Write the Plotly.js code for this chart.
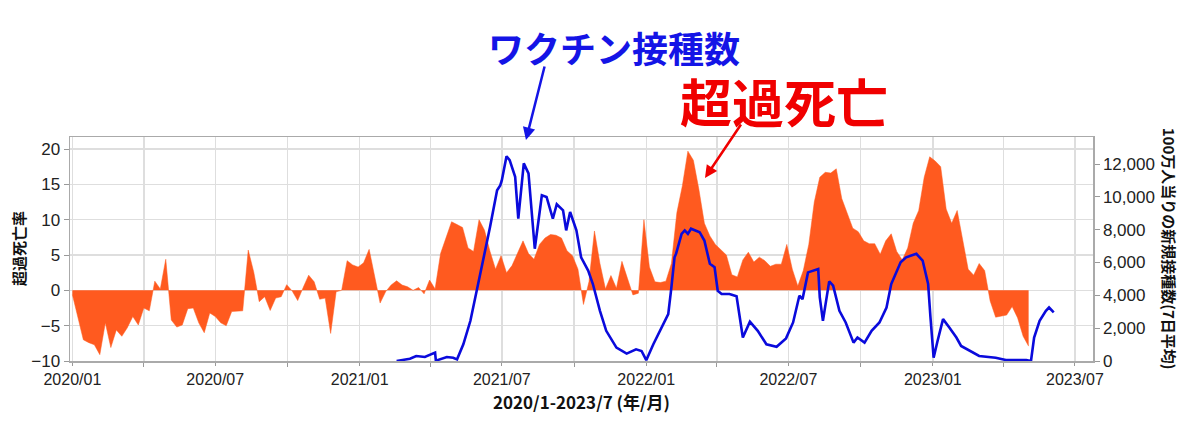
<!DOCTYPE html>
<html>
<head>
<meta charset="utf-8">
<script src="https://cdn.plot.ly/plotly-3.0.1.min.js"></script>
<style>
  html, body { margin: 0; padding: 0; background: #fff; }
  #chart { width: 1200px; height: 443px; }
</style>
</head>
<body>
<div id="chart"></div>
<script>
// weekly excess death rate (%), first week starts 2020-01-01
var excessStart = '2020-01-01';
var excessRate = [
  -0.6, -3.6, -7.0, -7.4, -7.7, -9.1, -4.6, -8.1, -5.6, -6.5,
  -5.3, -3.7, -4.9, -2.5, -2.9, 1.3, 0.2, 4.4, -4.2, -5.2,
  -4.9, -2.6, -2.5, -4.6, -6.0, -3.2, -3.7, -4.6, -5.0, -3.0,
  -2.9, -2.9, 5.7, 2.6, -1.6, -0.9, -2.85, -1.1, -0.9, 0.8,
  -0.1, -1.45, 0.4, 2.15, 1.2, -1.26, -1.1, -6.1, -0.2, 0,
  4.2, 3.6, 3.3, 3.9, 5.8, 1.9, -1.8, -0.2, 0.75, 1.35,
  0.75, 0.5, 0, 0.4, -0.5, 1.45, 0.2, 5.2, 7.5, 9.7,
  9.3, 8.9, 6.0, 5.5, 10.0, 8.5, 5.5, 3.0, 4.9, 2.5,
  3.5, 5.2, 7.0, 5.2, 4.4, 6.5, 7.4, 7.9, 7.8, 7.4,
  5.6, 4.9, 3.0, -2.0, 1.2, 8.4, 3.8, 0.2, 2.1, 0.3,
  4.1, 1.7, -0.65, -0.4, 10.0, 3.3, 1.2, 1.1, 1.3, 3.8,
  11.0, 14.8, 19.7, 18.4, 14.3, 9.5, 7.7, 6.5, 5.8, 5.0,
  2.2, 1.9, 4.3, 5.4, 4.0, 4.7, 4.2, 3.4, 3.7, 3.7,
  6.5, 3.0, 0.6, 2.8, 6.5, 12.5, 16.0, 16.7, 16.6, 17.2,
  13.0, 10.9, 8.8, 8.3, 7.0, 6.6, 6.6, 5.1, 7.0, 8.0,
  5.5, 4.3, 6.0, 9.5, 11.3, 16.0, 18.9, 18.3, 17.5, 11.5,
  9.5, 11.3, 7.0, 3.0, 2.15, 3.8, 2.8, -1.5, -3.8, -3.6,
  -3.5, -2.3, -3.9, -6.5, -7.9
];

// new vaccinations per million (7-day average)
var vaxDates = [
  '2021-02-17', '2021-03-06', '2021-03-14', '2021-03-25', '2021-04-07', '2021-04-08',
  '2021-04-22', '2021-04-30', '2021-05-05', '2021-05-13', '2021-05-22', '2021-05-30',
  '2021-06-08', '2021-06-16', '2021-06-25', '2021-06-29', '2021-07-01', '2021-07-07',
  '2021-07-11', '2021-07-18', '2021-07-22', '2021-07-25', '2021-07-29', '2021-08-04',
  '2021-08-07', '2021-08-12', '2021-08-21', '2021-08-27', '2021-09-04', '2021-09-09',
  '2021-09-17', '2021-09-21', '2021-09-26', '2021-10-04', '2021-10-10', '2021-10-19',
  '2021-10-25', '2021-11-03', '2021-11-11', '2021-11-24', '2021-12-07', '2021-12-19',
  '2021-12-26', '2022-01-01', '2022-01-10', '2022-01-22', '2022-01-29', '2022-02-02',
  '2022-02-06', '2022-02-08', '2022-02-15', '2022-02-19', '2022-02-23', '2022-02-27',
  '2022-03-10', '2022-03-16', '2022-03-23', '2022-03-29', '2022-04-02', '2022-04-07',
  '2022-04-17', '2022-04-26', '2022-05-02', '2022-05-04', '2022-05-13', '2022-05-23',
  '2022-06-03', '2022-06-16', '2022-06-28', '2022-07-07', '2022-07-15', '2022-07-19',
  '2022-07-26', '2022-08-01', '2022-08-08', '2022-08-10', '2022-08-14', '2022-08-22',
  '2022-08-27', '2022-09-04', '2022-09-12', '2022-09-22', '2022-09-27', '2022-10-06',
  '2022-10-15', '2022-10-25', '2022-11-03', '2022-11-09', '2022-11-16', '2022-11-21',
  '2022-11-28', '2022-12-11', '2022-12-19', '2022-12-26', '2022-12-29', '2023-01-02',
  '2023-01-07', '2023-01-14', '2023-01-22', '2023-01-31', '2023-02-06', '2023-02-17',
  '2023-03-01', '2023-03-22', '2023-04-04', '2023-04-30', '2023-05-06', '2023-05-10',
  '2023-05-17', '2023-05-25', '2023-05-29', '2023-06-04'
];
var vaxPerMillion = [
  0, 140, 306, 245, 510, 20,
  245, 200, 100, 1020, 2450, 4280,
  6120, 8160, 10400, 10700, 11000, 12480,
  12240, 11220, 8670, 10000, 12040, 11430,
  9790, 6840, 10100, 10000, 8670, 9550,
  9180, 7960, 9080, 7960, 6320, 5510,
  4690, 3060, 1840, 815, 450, 715,
  612, 50, 1020, 2245, 2860, 4490,
  6320, 6540, 7750, 7960, 7750, 8060,
  7850, 7340, 5920, 5710, 4280, 4080,
  4080, 3940, 1840, 1430, 2400, 1840,
  1020, 870, 1380, 2350, 3980, 3770,
  5400, 5510, 5610, 3880, 2450, 4850,
  4590, 3060, 2350, 1120, 1430, 1120,
  1840, 2350, 3260, 4690, 5510, 6020,
  6320, 6530, 6120, 4690, 2650, 200,
  1220, 2550, 2040, 1430, 918, 612,
  306, 200, 60, 60, 0, 1430,
  2450, 3060, 3260, 2960
];

var leftTicks = [-10, -5, 0, 5, 10, 15, 20];
var rightTicks = [0, 2000, 4000, 6000, 8000, 10000, 12000];

// build weekly dates for the excess series
var excessDates = [];
var d0 = new Date(excessStart + 'T00:00:00Z');
for (var i = 0; i < excessRate.length; i++) {
  var d = new Date(d0.getTime() + i * 7 * 86400000);
  excessDates.push(d.toISOString().slice(0, 10));
}

var orange = '#ff5a1f';
var blue = '#0a0adc';
var tickFont = {family: 'Liberation Sans, Noto Sans CJK JP, sans-serif', size: 17, color: '#222'};
var xTickFont = {family: 'Liberation Sans, Noto Sans CJK JP, sans-serif', size: 16, color: '#222'};
var jpBold = 'Noto Sans CJK JP, sans-serif';

var excessTrace = {
  x: excessDates,
  y: excessRate,
  type: 'scatter',
  mode: 'lines',
  fill: 'tozeroy',
  fillcolor: orange,
  line: {color: orange, width: 0.5},
  yaxis: 'y',
  hoverinfo: 'skip'
};

var vaxTrace = {
  x: vaxDates,
  y: vaxPerMillion,
  type: 'scatter',
  mode: 'lines',
  line: {color: blue, width: 2.6},
  yaxis: 'y2',
  hoverinfo: 'skip'
};

var layout = {
  width: 1200,
  height: 443,
  margin: {l: 70, r: 107, t: 137, b: 82},
  paper_bgcolor: '#fff',
  plot_bgcolor: '#fff',
  showlegend: false,
  xaxis: {
    type: 'date',
    range: ['2019-12-29', '2023-07-24'],
    tick0: '2020-01-01',
    dtick: 'M6',
    tickformat: '%Y/%m',
    ticks: 'outside',
    ticklen: 3,
    tickcolor: '#999',
    tickfont: xTickFont,
    showgrid: true,
    gridcolor: '#dedede',
    gridwidth: 1.5,
    minor: {dtick: 'M3', tick0: '2020-01-01', showgrid: true, gridcolor: '#dedede', gridwidth: 1.5, ticks: 'outside', ticklen: 4, tickcolor: '#999'},
    showline: true,
    linecolor: '#aaa',
    linewidth: 1.5,
    mirror: true,
    zeroline: false
  },
  yaxis: {
    range: [-10, 21.7],
    tickvals: leftTicks,
    ticks: 'outside',
    ticklen: 5,
    tickcolor: '#999',
    tickfont: tickFont,
    showgrid: true,
    gridcolor: '#dedede',
    gridwidth: 1.5,
    zeroline: false,
    showline: true,
    linecolor: '#aaa',
    linewidth: 1.5
  },
  yaxis2: {
    overlaying: 'y',
    side: 'right',
    range: [0, 13650],
    tickvals: rightTicks,
    tickformat: ',d',
    separatethousands: true,
    ticks: 'outside',
    ticklen: 5,
    tickcolor: '#999',
    tickfont: tickFont,
    showgrid: false,
    zeroline: false,
    showline: true,
    linecolor: '#aaa',
    linewidth: 1.5
  },
  annotations: [
    // axis titles
    {xref: 'paper', yref: 'paper', x: 0.5, y: -0.18, xanchor: 'center', yanchor: 'middle',
     text: '<b>2020/1-2023/7 (年/月)</b>', showarrow: false,
     font: {family: jpBold, size: 17, color: '#111'}},
    {xref: 'paper', yref: 'paper', x: -0.0508, y: 0.5, xanchor: 'center', yanchor: 'middle',
     text: '<b>超過死亡率</b>', showarrow: false,
     textangle: -90, font: {family: jpBold, size: 15, color: '#111'}},
    {xref: 'paper', yref: 'paper', x: 1.0755, y: 0.50, xanchor: 'center', yanchor: 'middle',
     text: '<b>100万人当りの新規接種数(7日平均)</b>', showarrow: false,
     textangle: 90, font: {family: jpBold, size: 15, color: '#111'}},
    // callouts
    {xref: 'paper', yref: 'paper', x: 0.532, y: 1.402, xanchor: 'center', yanchor: 'middle',
     text: '<b>ワクチン接種数</b>', showarrow: false,
     font: {family: jpBold, size: 36, color: '#1414e6'}},
    {xref: 'paper', yref: 'paper', x: 0.4457, y: 0.9866, text: '', showarrow: true,
     ax: 19, ay: -75, arrowhead: 2, arrowsize: 1, arrowwidth: 2.5, arrowcolor: '#1414e6'},
    {xref: 'paper', yref: 'paper', x: 0.698, y: 1.165, xanchor: 'center', yanchor: 'middle',
     text: '<b>超過死亡</b>', showarrow: false,
     font: {family: jpBold, size: 52, color: '#f00000'}},
    {xref: 'paper', yref: 'paper', x: 0.6207, y: 0.817, text: '', showarrow: true,
     ax: 37, ay: -55, arrowhead: 2, arrowsize: 1, arrowwidth: 2.5, arrowcolor: '#f00000'}
  ]
};

Plotly.newPlot('chart', [excessTrace, vaxTrace], layout, {displayModeBar: false, staticPlot: true});
</script>
</body>
</html>
